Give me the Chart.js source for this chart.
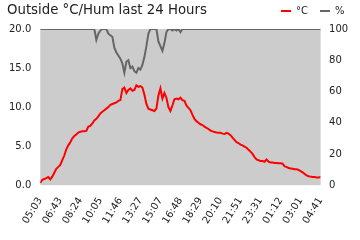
<!DOCTYPE html>
<html lang="en">

<head>
    <meta charset="UTF-8">
    <title>Outside °C/Hum last 24 Hours</title>
    <script src="https://cdn.jsdelivr.net/npm/chart.js"></script>
    <style>
        body {
            margin: 0;
            background: #fff;
        }

        .wrap {
            position: relative;
            width: 360px;
            height: 240px;
        }

        .title {
            position: absolute;
            left: 7px;
            top: 2px;
            font: 13.3px "DejaVu Sans", sans-serif;
            color: #222;
        }
    </style>
</head>

<body>
    <div class="wrap">
        <canvas id="chart"></canvas>
        <div class="title">Outside °C/Hum last 24 Hours</div>
    </div>

    <script>
        // tick labels, one every 10 samples
        const timeLabels = ['05:03', '06:43', '08:24', '10:05', '11:46', '13:27', '15:07', '16:48',
            '18:29', '20:10', '21:51', '23:31', '01:12', '03:01', '04:41'];

        // outside temperature (°C)
        const tempValues = [
            0.3, 0.7, 0.8, 0.9, 1.05, 0.75, 1.1, 1.6, 2.1, 2.35,
            2.6, 3.2, 3.8, 4.6, 5.1, 5.5, 6.0, 6.3, 6.5, 6.75,
            6.85, 6.9, 6.9, 6.95, 7.5, 7.6, 7.9, 8.3, 8.5, 8.8,
            9.2, 9.4, 9.6, 9.8, 10.0, 10.3, 10.4, 10.5, 10.6, 10.8,
            10.9, 12.3, 12.5, 11.8, 12.2, 12.4, 12.1, 12.2, 12.8, 12.6,
            12.7, 12.5, 11.6, 10.4, 9.8, 9.7, 9.6, 9.5, 9.8, 11.5,
            12.4, 11.1, 11.8, 11.2, 10.0, 9.5, 10.2, 11.0, 11.1, 11.0,
            11.2, 10.9, 10.8, 10.2, 9.9, 9.6, 9.0, 8.5, 8.2, 8.0,
            7.8, 7.7, 7.5, 7.35, 7.2, 7.0, 6.9, 6.8, 6.75, 6.7,
            6.7, 6.6, 6.55, 6.7, 6.6, 6.4, 6.1, 5.8, 5.5, 5.4,
            5.2, 5.1, 4.95, 4.8, 4.55, 4.3, 4.0, 3.6, 3.3, 3.2,
            3.1, 3.1, 3.0, 3.3, 3.0, 2.9, 2.9, 2.85, 2.85, 2.8,
            2.8, 2.75, 2.4, 2.35, 2.2, 2.15, 2.1, 2.05, 2.05, 1.95,
            1.8, 1.65, 1.45, 1.25, 1.15, 1.1, 1.05, 1.05, 1.0, 1.0,
            1.05
        ];

        // relative humidity (%)
        const humValues = [
            100, 100, 100, 100, 100, 100, 100, 100, 100, 100,
            100, 100, 100, 100, 100, 100, 100, 100, 100, 100,
            100, 100, 100, 100, 100, 100, 100, 100, 93, 97,
            99, 100, 100, 100, 97, 96, 95, 88, 85, 83,
            81, 78, 72, 79, 80, 75, 76, 73, 72, 75,
            74, 77, 82, 89, 97, 100, 100, 100, 100, 92,
            89, 86, 91, 98, 100, 100, 99, 100, 99, 100,
            98, 100, 100, 100, 100, 100, 100, 100, 100, 100,
            100, 100, 100, 100, 100, 100, 100, 100, 100, 100,
            100, 100, 100, 100, 100, 100, 100, 100, 100, 100,
            100, 100, 100, 100, 100, 100, 100, 100, 100, 100,
            100, 100, 100, 100, 100, 100, 100, 100, 100, 100,
            100, 100, 100, 100, 100, 100, 100, 100, 100, 100,
            100, 100, 100, 100, 100, 100, 100, 100, 100, 100,
            100
        ];

        Chart.defaults.font.family = '"DejaVu Sans", sans-serif';
        Chart.defaults.font.size = 10;
        Chart.defaults.color = '#222';

        // grey plot area
        const plotBg = {
            id: 'plotBg',
            beforeDraw(chart) {
                const { ctx, chartArea: a } = chart;
                ctx.save();
                ctx.fillStyle = '#cccccc';
                ctx.fillRect(a.left, a.top, a.right - a.left, a.bottom - a.top);
                ctx.restore();
            }
        };

        const noGrid = { display: false, drawTicks: false };

        const ctx = document.getElementById('chart').getContext('2d');
        new Chart(ctx, {
            type: 'line',
            data: {
                labels: tempValues.map((_, i) => i),
                datasets: [{
                    label: '°C',
                    data: tempValues,
                    borderColor: '#ff0000',
                    backgroundColor: '#ff0000',
                    borderWidth: 2,
                    pointRadius: 0,
                    yAxisID: 'y'
                }, {
                    label: '%',
                    data: humValues,
                    borderColor: '#666666',
                    backgroundColor: '#666666',
                    borderWidth: 2,
                    pointRadius: 0,
                    clip: 0,
                    yAxisID: 'y1'
                }]
            },
            options: {
                responsive: true,
                maintainAspectRatio: false,
                animation: false,
                layout: { padding: { left: 0, right: 3.5, top: -6, bottom: 4 } },
                plugins: {
                    legend: {
                        position: 'top',
                        align: 'end',
                        labels: {
                            boxWidth: 10,
                            boxHeight: 2,
                            padding: 12,
                            generateLabels: chart =>
                                Chart.defaults.plugins.legend.labels.generateLabels(chart)
                                    .map(l => ({ ...l, lineWidth: 0 }))
                        }
                    },
                    // empty spacer between legend and plot
                    subtitle: {
                        display: true,
                        text: '',
                        weight: 500,
                        padding: 0,
                        font: { size: 2.5, lineHeight: 1.2 }
                    },
                    tooltip: { enabled: false }
                },
                scales: {
                    x: {
                        type: 'linear',
                        min: 0,
                        max: tempValues.length - 1,
                        grid: noGrid,
                        border: { display: false },
                        ticks: {
                            stepSize: 10,
                            autoSkip: false,
                            minRotation: 58,
                            maxRotation: 58,
                            padding: 10,
                            callback: v => timeLabels[v / 10]
                        }
                    },
                    y: {
                        position: 'left',
                        min: 0,
                        max: 20,
                        grid: noGrid,
                        border: { display: false },
                        ticks: { stepSize: 5, padding: 9, callback: v => v.toFixed(1) }
                    },
                    y1: {
                        position: 'right',
                        min: 0,
                        max: 100,
                        grid: noGrid,
                        border: { display: false },
                        ticks: { stepSize: 20, padding: 8.4 }
                    }
                }
            },
            plugins: [plotBg]
        });
    </script>
</body>

</html>
